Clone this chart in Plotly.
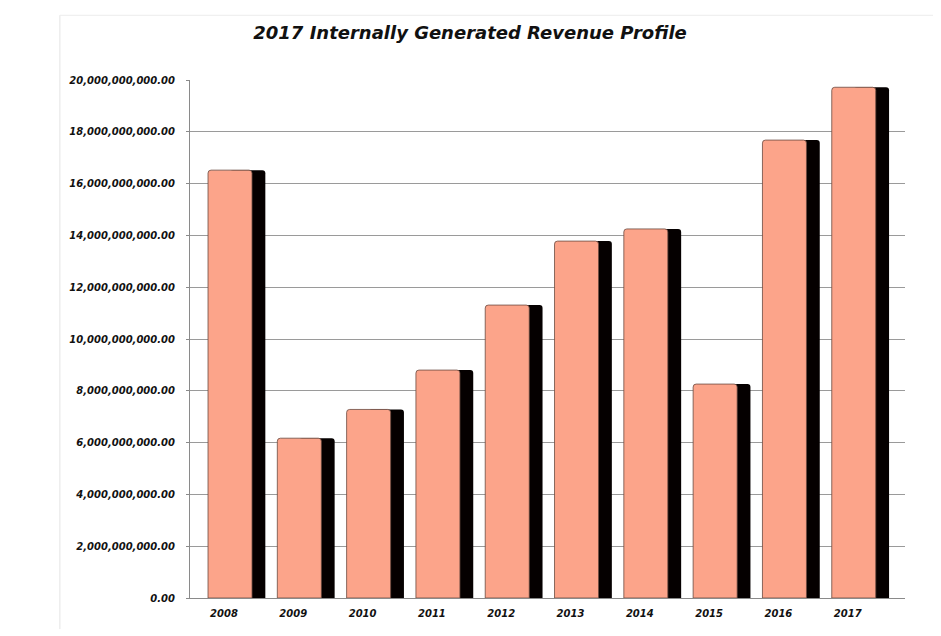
import plotly.graph_objects as go

# data
years = ["2008", "2009", "2010", "2011", "2012", "2013", "2014", "2015", "2016", "2017"]
revenue = [16.52e9, 6.17e9, 7.28e9, 8.80e9, 11.31e9, 13.78e9, 14.25e9, 8.26e9, 17.68e9, 19.72e9]
y_ticks = [i * 2e9 for i in range(11)]

fnt = "DejaVu Sans"

fig = go.Figure()

# black "3D" shadow behind each bar
fig.add_trace(go.Bar(
    x=years, y=revenue,
    offset=0.0, width=0.51,
    marker=dict(color="#050000", line=dict(width=0)),
    hoverinfo="skip", showlegend=False,
))

# salmon front face
fig.add_trace(go.Bar(
    x=years, y=revenue,
    offset=-0.317, width=0.635,
    marker=dict(color="#FCA48A", line=dict(color="#6b4a40", width=0.8)),
    showlegend=False,
))

fig.update_layout(
    width=941, height=636,
    margin=dict(l=182, r=44, t=72, b=46, autoexpand=False),
    paper_bgcolor="white", plot_bgcolor="white",
    barmode="overlay",
    barcornerradius=3,
    title=dict(
        text="2017 Internally Generated Revenue Profile",
        x=0.491, xanchor="center", y=0.961, yanchor="middle",
        font=dict(family=fnt, size=18, color="#111", style="italic", weight="bold"),
    ),
    shapes=[
        # faint frame of the original chart area
        dict(type="line", xref="paper", yref="paper", x0=-0.182, x1=-0.182, y0=-0.06, y1=1.125,
             line=dict(color="#e4e4e4", width=1)),
        dict(type="line", xref="paper", yref="paper", x0=-0.182, x1=1.05, y0=1.125, y1=1.125,
             line=dict(color="#ececec", width=1)),
    ],
)

fig.update_xaxes(
    range=[-0.577, 9.74],
    showgrid=False,
    showline=True, linecolor="#8a8a8a", linewidth=1,
    ticks="", ticklabelstandoff=6, ticklabelshift=-6,
    tickfont=dict(family=fnt, size=10, color="#111", style="italic", weight="bold"),
)

fig.update_yaxes(
    range=[0, 20e9],
    tickvals=y_ticks, tickformat=",.2f",
    showgrid=True, gridcolor="#9a9a9a", gridwidth=1,
    showline=True, linecolor="#8a8a8a", linewidth=1,
    ticks="outside", ticklen=3, tickcolor="#8a8a8a",
    ticklabelstandoff=9,
    zeroline=False,
    tickfont=dict(family=fnt, size=10, color="#111", style="italic", weight="bold"),
)

fig.write_html("out.html")
